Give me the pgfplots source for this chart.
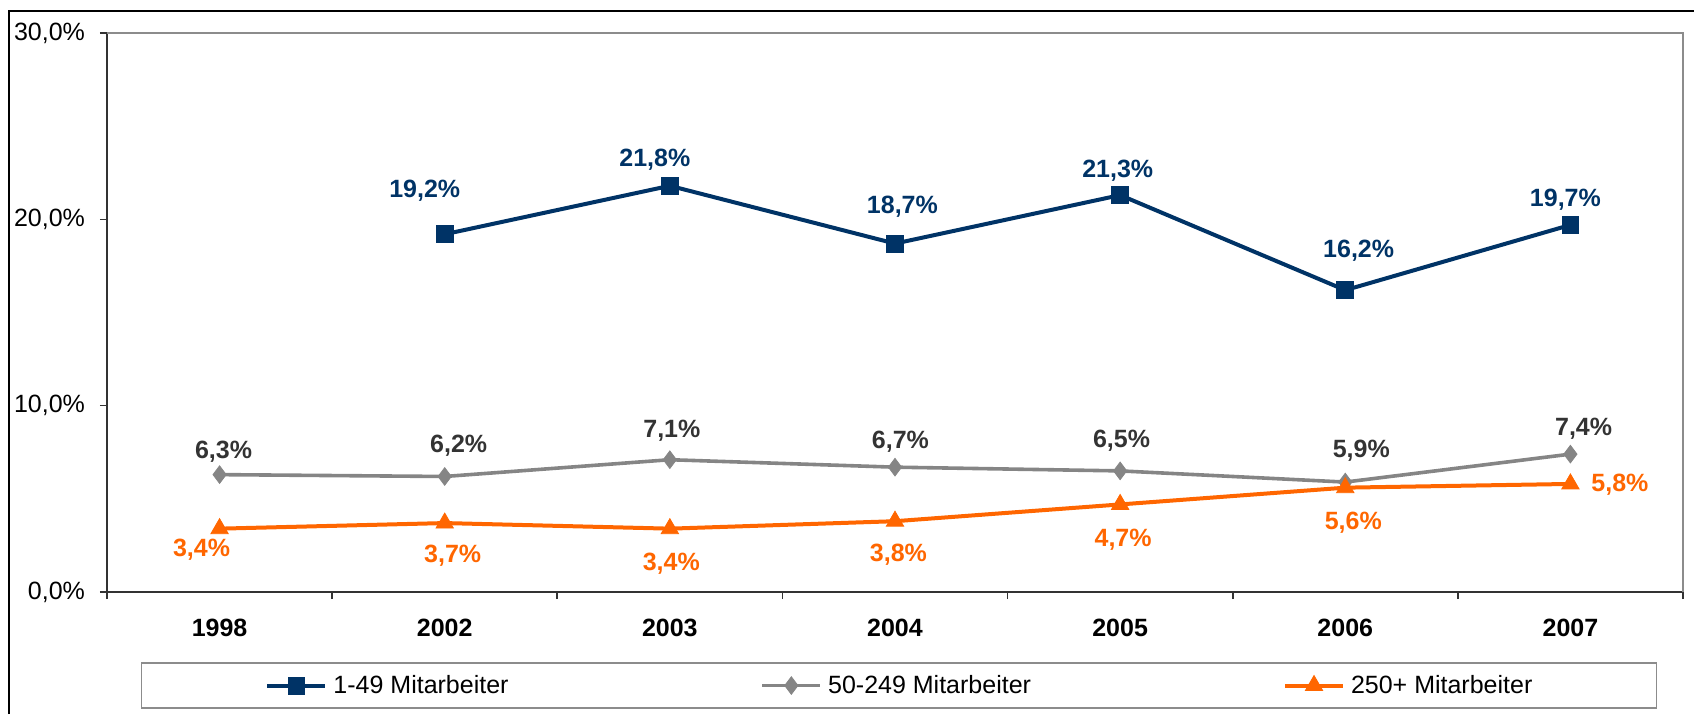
\documentclass[border=0pt]{standalone}
\usepackage{pgfplots}
\pgfplotsset{compat=1.18}
\usepackage{pgfplotstable}
\usepackage{fontspec}
\setmainfont{Liberation Sans}
\definecolor{cblue}{HTML}{003366}
\definecolor{cgray}{HTML}{858585}
\definecolor{cgraytext}{HTML}{333333}
\definecolor{corange}{HTML}{FF6600}
\newcommand{\fs}{\fontsize{12.5}{15}\selectfont}

% x: 0=1998,1=2002,...,6=2007 ; dx,dy = label offset (pt)
\pgfplotstableread{
x y dx dy
1 19.2 -10 22
2 21.8 -7.5 13.3
3 18.7 3.7 18.3
4 21.3 -1.2 12.3
5 16.2 6.7 19.5
6 19.7 -2.5 12.5
}\tblA
\pgfplotstableread{
x y dx dy
0 6.3 2 11.7
1 6.2 7 15.5
2 7.1 1 14.5
3 6.7 2.7 12.7
4 6.5 0.7 15
5 5.9 8 15.8
6 7.4 6.6 12.8
}\tblB
\pgfplotstableread{
x y dx dy
0 3.4 -9 -10.7
1 3.7 4 -16.5
2 3.4 0.7 -17.4
3 3.8 1.7 -16.9
4 4.7 1.5 -17.8
5 5.6 4 -17.5
6 5.8 24.75 -0.5
}\tblC

\begin{document}
\begin{tikzpicture}
\useasboundingbox (0,0) rectangle (847pt,-357pt);
\draw[black, line width=0.7pt] (4.5pt,-357pt) -- (4.5pt,-5.5pt) -- (847pt,-5.5pt);
\begin{axis}[
  at={(53.5pt,-296pt)}, anchor=south west,
  scale only axis, width=788pt, height=279.5pt,
  xmin=-0.5, xmax=6.5, ymin=0, ymax=30,
  axis x line*=bottom, axis y line*=left,
  axis line style={draw=black!80, line width=0.8pt},
  xtick={-0.5,0.5,1.5,2.5,3.5,4.5,5.5,6.5}, xticklabels={},
  extra x ticks={0,1,2,3,4,5,6},
  extra x tick labels={1998,2002,2003,2004,2005,2006,2007},
  extra x tick style={major tick length=0pt, tick style={draw=none},
    xticklabel style={font=\fs\bfseries, anchor=center, yshift=-18pt}},
  ytick={0,10,20,30},
  tick align=outside, major tick length=3.5pt,
  tick style={draw=black!80, line width=0.8pt},
  /pgf/number format/assume math mode=true,
  yticklabel={\pgfmathprintnumber[fixed,fixed zerofill,precision=1,use comma]{\tick}\%},
  yticklabel style={font=\fs, anchor=east, xshift=-4pt},
  clip=false,
  point meta=y,
  nodes near coords={\pgfmathprintnumber[fixed,fixed zerofill,precision=1,use comma]{\pgfplotspointmeta}\%},
  visualization depends on={\thisrow{dx} \as \labdx},
  visualization depends on={\thisrow{dy} \as \labdy},
  every node near coord/.append style={anchor=center, font=\fs\bfseries,
    xshift=\labdx pt, yshift=\labdy pt},
  legend image code/.code={\draw[mark repeat=2,mark phase=2] plot coordinates {(0pt,0pt)(14.5pt,0pt)(29pt,0pt)};},
  legend columns=3,
  legend style={at={(axis description cs:0.5025,-0.1673)}, anchor=center,
    draw=black!45, line width=0.8pt, font=\fs, inner xsep=62pt, inner ysep=6pt,
    nodes={inner sep=0pt},
    /tikz/every odd column/.append style={column sep=3pt},
    /tikz/every even column/.append style={column sep=126pt}},
  legend cell align=left,
]
\addplot[cblue, line width=2pt, mark=square*, mark size=4.2pt,
  mark options={solid, line width=0.4pt, fill=cblue},
  every node near coord/.append style={text=cblue}]
  table[x=x, y=y] {\tblA};
\addlegendentry{1-49 Mitarbeiter}
\addplot[cgray, line width=1.8pt, mark=diamond*, mark size=4.4pt,
  mark options={solid, line width=0.4pt, fill=cgray},
  every node near coord/.append style={text=cgraytext}]
  table[x=x, y=y] {\tblB};
\addlegendentry{50-249 Mitarbeiter}
\addplot[corange, line width=2pt, mark=triangle*, mark size=5pt,
  mark options={solid, line width=0.4pt, fill=corange},
  every node near coord/.append style={text=corange}]
  table[x=x, y=y] {\tblC};
\addlegendentry{250+ Mitarbeiter}
\draw[black!45, line width=0.8pt] (rel axis cs:0,1) -- (rel axis cs:1,1) -- (rel axis cs:1,0);
\end{axis}
\end{tikzpicture}
\end{document}
